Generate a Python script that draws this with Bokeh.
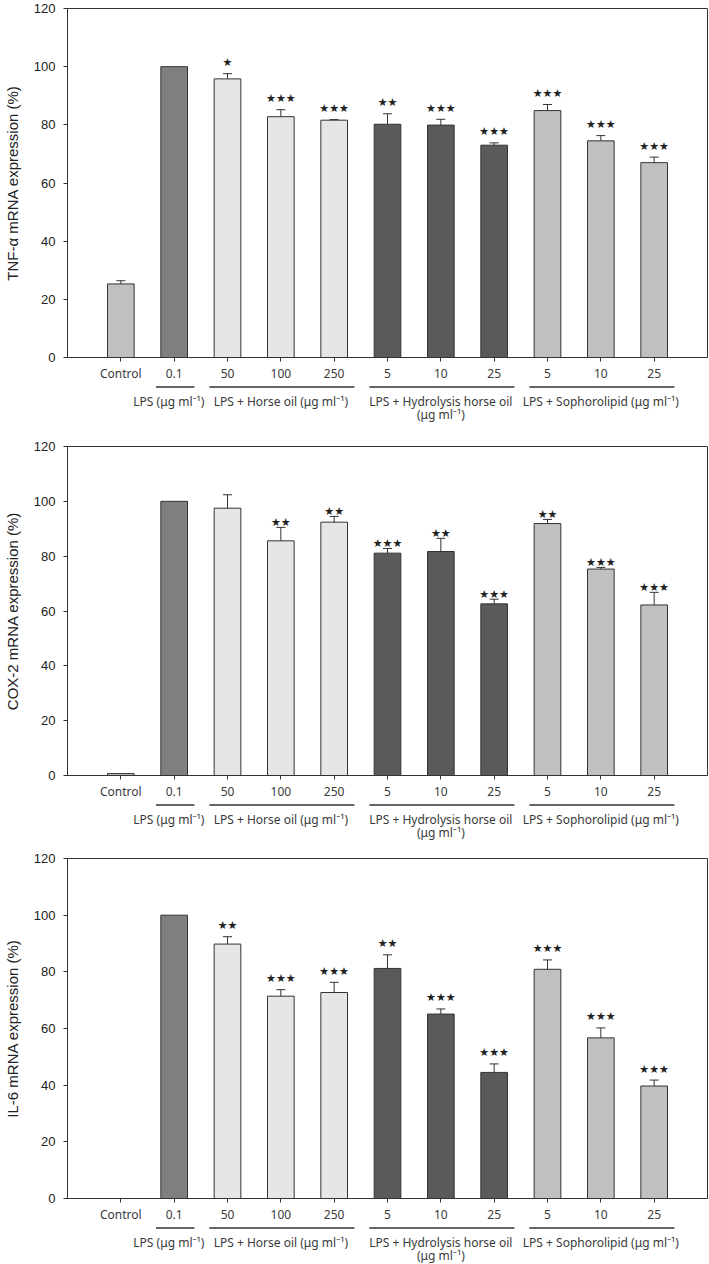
from bokeh.plotting import figure
from bokeh.models import Range1d, FixedTicker, ColumnDataSource, Whisker, TeeHead
from bokeh.layouts import column
from bokeh.embed import file_html
from bokeh.resources import INLINE
from bokeh.core.properties import value

# ---------------- data ----------------
categories = ["Control", "0.1", "50", "100", "250", "5", "10", "25", "5", "10", "25"]
bar_group = ["Control", "LPS", "Horse", "Horse", "Horse",
             "Hydro", "Hydro", "Hydro", "Soph", "Soph", "Soph"]

group_labels = ["LPS (\u03bcg ml\u207b\u00b9)",
                "LPS + Horse oil (\u03bcg ml\u207b\u00b9)",
                "LPS + Hydrolysis horse oil\n(\u03bcg ml\u207b\u00b9)",
                "LPS + Sophorolipid (\u03bcg ml\u207b\u00b9)"]
group_first = [1, 2, 5, 8]
group_last = [1, 4, 7, 10]

y_ticks = [0, 20, 40, 60, 80, 100, 120]

tnf_title = "TNF-\u03b1 mRNA expression (%)"
tnf_mean = [25.3, 100, 95.8, 82.8, 81.6, 80.2, 79.9, 73.0, 84.9, 74.5, 67.0]
tnf_err = [1.1, 0, 1.8, 2.4, 0.2, 3.6, 2.0, 0.8, 2.1, 1.8, 1.9]
tnf_sig = ["", "", "*", "***", "***", "**", "***", "***", "***", "***", "***"]

cox_title = "COX-2 mRNA expression (%)"
cox_mean = [0.7, 100, 97.5, 85.6, 92.4, 81.1, 81.7, 62.6, 91.9, 75.3, 62.2]
cox_err = [0, 0, 4.9, 4.9, 2.1, 1.7, 4.8, 1.7, 1.5, 0.6, 4.6]
cox_sig = ["", "", "", "**", "**", "***", "**", "***", "**", "***", "***"]

il6_title = "IL-6 mRNA expression (%)"
il6_mean = [0, 100, 89.8, 71.4, 72.7, 81.2, 65.1, 44.5, 80.9, 56.7, 39.7]
il6_err = [0, 0, 2.6, 2.3, 3.6, 4.8, 1.8, 3.0, 3.3, 3.5, 2.1]
il6_sig = ["", "", "**", "***", "***", "**", "***", "***", "***", "***", "***"]

# ---------------- styles ----------------
group_colors = {"Control": "#c0c0c0", "LPS": "#7f7f7f", "Horse": "#e6e6e6",
                "Hydro": "#5a5a5a", "Soph": "#c0c0c0"}
W = 709
LINE = "#333333"
TICK_FONT = "Noto Sans"
NUM_FONT = "Liberation Sans"
BOTTOM = 27


def make_panel(title, mean, err, sig, frame_h, star_off, strip_h):
    xr = Range1d(-1, 11)
    p = figure(width=W, height=8 + frame_h + BOTTOM, x_range=xr, y_range=Range1d(0, 120),
               output_backend="svg", toolbar_location=None,
               min_border_left=65, min_border_right=2, min_border_top=8,
               min_border_bottom=BOTTOM)
    p.outline_line_color = LINE
    p.outline_line_width = 1
    p.grid.visible = False

    xs = list(range(len(categories)))
    src = ColumnDataSource(dict(x=xs, top=mean,
                                color=[group_colors[g] for g in bar_group]))
    p.vbar(x="x", top="top", bottom=0, width=0.5, source=src,
           fill_color="color", line_color=LINE, line_width=1)

    ex = [x for x, e in zip(xs, err) if e > 0]
    elo = [m for m, e in zip(mean, err) if e > 0]
    ehi = [m + e for m, e in zip(mean, err) if e > 0]
    esrc = ColumnDataSource(dict(x=ex, lower=elo, upper=ehi))
    w = Whisker(source=esrc, base="x", lower="lower", upper="upper",
                line_color=LINE, line_width=1, lower_head=None,
                upper_head=TeeHead(size=9, line_color=LINE, line_width=1),
                level="overlay")
    p.add_layout(w)

    sx = [x for x, s in zip(xs, sig) if s]
    sy = [m + e for m, e, s in zip(mean, err, sig) if s]
    st = [s.replace("*", "\u2605") for s in sig if s]
    ssrc = ColumnDataSource(dict(x=sx, y=sy, t=st))
    p.text(x="x", y="y", text="t", source=ssrc, text_align="center",
           text_baseline="middle", y_offset=-star_off,
           text_font=value("DejaVu Sans"), text_font_size="11px",
           text_color="#222222")

    xa = p.xaxis[0]
    xa.ticker = FixedTicker(ticks=xs)
    xa.major_label_overrides = {i: c for i, c in enumerate(categories)}
    xa.major_tick_in = 0
    xa.major_tick_out = 4
    xa.minor_tick_line_color = None
    xa.axis_line_color = LINE
    xa.major_tick_line_color = LINE
    xa.major_label_standoff = 3
    xa.major_label_text_font = TICK_FONT
    xa.major_label_text_font_size = "12px"
    xa.major_label_text_color = "#3a3a3a"

    ya = p.yaxis[0]
    ya.ticker = FixedTicker(ticks=y_ticks)
    ya.major_tick_in = 0
    ya.major_tick_out = 4
    ya.minor_tick_line_color = None
    ya.axis_line_color = LINE
    ya.major_tick_line_color = LINE
    ya.major_label_standoff = 8
    ya.major_label_text_font = NUM_FONT
    ya.major_label_text_font_size = "13px"
    ya.major_label_text_color = "#222222"
    ya.axis_label = title
    ya.axis_label_text_font = NUM_FONT
    ya.axis_label_text_font_size = "15px"
    ya.axis_label_text_font_style = "normal"
    ya.axis_label_text_color = "#222222"
    ya.axis_label_standoff = 10

    s = figure(width=W, height=strip_h, x_range=xr, y_range=Range1d(strip_h, 0),
               output_backend="svg", toolbar_location=None,
               x_axis_location=None, y_axis_location=None,
               min_border_left=65, min_border_right=2, min_border_top=0,
               min_border_bottom=0)
    s.outline_line_color = None
    s.grid.visible = False
    first_lines = [g.split("\n")[0] for g in group_labels]
    second_lines = [g.split("\n")[1] if "\n" in g else "" for g in group_labels]
    centers = [(f + l) / 2 for f, l in zip(group_first, group_last)]
    gsrc = ColumnDataSource(dict(
        x0=[f - 0.34 for f in group_first], x1=[l + 0.38 for l in group_last],
        xc=[c - (0.1 if f == l else 0) for c, f, l in zip(centers, group_first, group_last)],
        l1=first_lines, l2=second_lines))
    s.segment(x0="x0", x1="x1", y0=2.5, y1=2.5, source=gsrc, line_color=LINE,
              line_width=1.5)
    s.text(x="xc", y=17, text="l1", source=gsrc, text_align="center",
           text_baseline="middle", text_font=value(TICK_FONT),
           text_font_size="12px", text_color="#3a3a3a")
    s.text(x="xc", y=30, text="l2", source=gsrc, text_align="center",
           text_baseline="middle", text_font=value(TICK_FONT),
           text_font_size="12px", text_color="#3a3a3a")
    return [p, s]


parts = []
parts += make_panel(tnf_title, tnf_mean, tnf_err, tnf_sig, 349, 11, 54)
parts += make_panel(cox_title, cox_mean, cox_err, cox_sig, 329, 5, 48)
parts += make_panel(il6_title, il6_mean, il6_err, il6_sig, 340, 11, 38)

layout = column(*parts, spacing=0)
open("out.html", "w").write(file_html(layout, INLINE))
